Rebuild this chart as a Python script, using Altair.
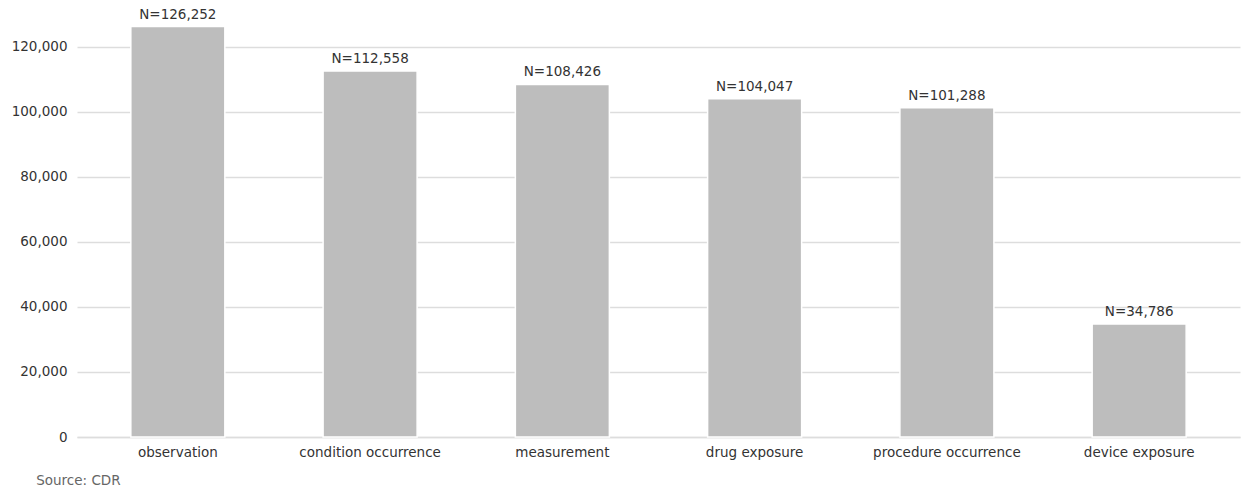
import altair as alt
import pandas as pd

# Record counts per CDR domain table
domains = [
    "observation",
    "condition occurrence",
    "measurement",
    "drug exposure",
    "procedure occurrence",
    "device exposure",
]
counts = [126252, 112558, 108426, 104047, 101288, 34786]

df = pd.DataFrame({"domain": domains, "count": counts})
df["label"] = ["N={:,}".format(c) for c in counts]

FONT = "DejaVu Sans"
FS = 13.5
W, H = 1163, 431

x_enc = alt.X(
    "domain:N",
    sort=domains,
    scale=alt.Scale(paddingInner=0.511, paddingOuter=0.28),
    axis=alt.Axis(
        title=None,
        labelAngle=0,
        labelFont=FONT,
        labelFontSize=FS,
        labelColor="#333333",
        labelPadding=8,
        ticks=False,
        domain=True,
        domainColor="#dddddd",
        domainWidth=1.5,
        grid=False,
    ),
)
y_enc = alt.Y(
    "count:Q",
    scale=alt.Scale(domain=[0, 132565], nice=False),
    axis=alt.Axis(
        title=None,
        values=[0, 20000, 40000, 60000, 80000, 100000, 120000],
        format=",d",
        labelFont=FONT,
        labelFontSize=FS,
        labelColor="#333333",
        labelPadding=10,
        ticks=False,
        domain=False,
        grid=True,
        gridColor="#dddddd",
        gridWidth=1.5,
    ),
)

bars = alt.Chart(df).mark_bar(
    color="#bdbdbd", stroke="white", strokeWidth=1.5
).encode(x=x_enc, y=y_enc)

labels = alt.Chart(df).mark_text(
    baseline="bottom", dy=-5, font=FONT, fontSize=FS, color="#333333"
).encode(x=alt.X("domain:N", sort=domains), y="count:Q", text="label:N")

chart = (
    alt.layer(bars, labels)
    .properties(
        width=W,
        height=H,
        background="white",
        title=alt.TitleParams(
            "Source: CDR",
            orient="bottom",
            anchor="start",
            font=FONT,
            fontSize=FS,
            fontWeight="normal",
            color="#666666",
            dx=25,
            offset=15,
        ),
        padding={"left": 77, "top": 6, "right": 1, "bottom": 54},
        autosize=alt.AutoSizeParams(type="none"),
    )
    .configure_view(strokeWidth=0, stroke=None)
)

chart.save("out.html", embed_options={"renderer": "svg", "actions": False})
